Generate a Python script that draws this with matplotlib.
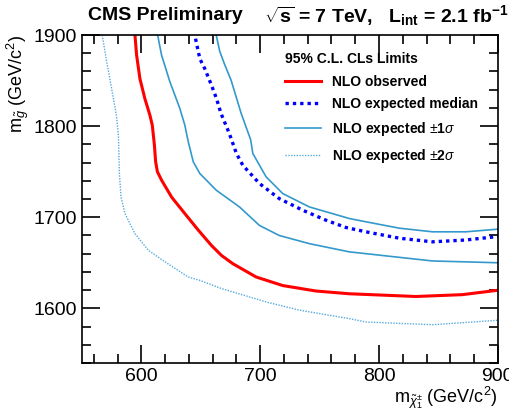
import matplotlib.pyplot as plt
from matplotlib.ticker import MultipleLocator

plt.rcParams['font.family'] = ['Liberation Sans', 'DejaVu Sans']
plt.rcParams['mathtext.fontset'] = 'custom'
plt.rcParams['mathtext.rm'] = 'Liberation Sans'
plt.rcParams['mathtext.it'] = 'Liberation Sans:italic'
plt.rcParams['mathtext.bf'] = 'Liberation Sans:bold'

# limit contours (chargino mass, gluino mass)
obs_x = [594.6, 596, 598.8, 603, 607.2, 609.2, 611, 612, 613.5, 617, 625.5, 636.6, 648, 659, 667.5,
         677, 696.6, 719, 747, 775, 831, 870, 901]
obs_y = [1900, 1878, 1852, 1830, 1812, 1801, 1779, 1761, 1750, 1740.7, 1722, 1704, 1685.7, 1669, 1658,
         1649, 1634.4, 1625, 1619, 1616, 1613, 1615, 1620]

exp_x = [645.6, 649.2, 653.4, 659, 663.3, 667, 674, 680, 685.4, 699.4, 716, 735.8, 755.5, 772.3,
         789, 817, 845, 873, 901]
exp_y = [1896, 1874, 1863, 1845, 1830, 1814, 1792, 1770, 1757, 1737, 1720.5, 1707.7, 1696.7, 1688.7,
         1684, 1677, 1673, 1675, 1679]

p1_x = [663, 666, 670, 675.5, 684, 692, 693.8, 705, 719, 741.4, 775, 789, 817, 845, 873, 901]
p1_y = [1900, 1882, 1868, 1850.5, 1814, 1785, 1770, 1744.3, 1726, 1711.3, 1698.6, 1695, 1688, 1684, 1684, 1687]

m1_x = [613.7, 617, 624, 632.4, 636.6, 639.5, 643.7, 649.2, 663, 682.6, 699.4, 716, 741.4, 775,
        789, 845, 901]
m1_y = [1900, 1878, 1848.7, 1819.4, 1801, 1782.7, 1760.8, 1748, 1729.7, 1711.3, 1691, 1680, 1671, 1662,
        1660, 1652, 1650]

m2_x = [567, 570.8, 575, 579, 580.7, 581.5, 582.9, 586.2, 594.6, 605.9, 619.9, 639.5, 649, 667.5,
        677, 705, 733, 775, 789, 845, 901]
m2_y = [1900, 1871, 1841, 1812, 1790, 1748, 1722, 1704, 1682, 1663.7, 1651, 1634.4, 1630.8, 1621.7,
        1618, 1607, 1598, 1588.7, 1585, 1582, 1587]

fig = plt.figure(figsize=(5.09, 4.17), dpi=100)
ax = fig.add_axes([0.161, 0.1295, 0.817, 0.7865])

ax.plot(obs_x, obs_y, color='#ff0000', lw=2.2, label='NLO observed')
ax.plot(exp_x, exp_y, color='#0000ff', lw=2.4, ls=(0, (1, 1.2)), label='NLO expected median')
ax.plot(p1_x, p1_y, color='#3399cc', lw=1.2, label='NLO expected $\\pm$1$\\sigma$')
ax.plot(m1_x, m1_y, color='#3399cc', lw=1.2)
ax.plot(m2_x, m2_y, color='#55aadd', lw=1.0, ls=(0, (1, 1)), label='NLO expected $\\pm$2$\\sigma$')

ax.set_xlim(550, 900)
ax.set_ylim(1540, 1900)
ax.xaxis.set_major_locator(MultipleLocator(100))
ax.xaxis.set_minor_locator(MultipleLocator(20))
ax.yaxis.set_major_locator(MultipleLocator(100))
ax.yaxis.set_minor_locator(MultipleLocator(20))
ax.tick_params(which='both', direction='in', top=True, right=True, labelsize=14, width=1.2)
ax.tick_params(which='major', length=13)
ax.tick_params(which='minor', length=6.5)
for s in ax.spines.values():
    s.set_linewidth(1.2)

ax.set_xlabel('m$_{\\tilde{\\chi}_1^{\\pm}}$ (GeV/c$^2$)', fontsize=13, loc='right', labelpad=0)
ax.set_ylabel('m$_{\\tilde{g}}$ (GeV/c$^2$)', fontsize=13, loc='top', labelpad=2)

leg = ax.legend(loc='upper left', bbox_to_anchor=(0.475, 0.965), frameon=False,
                title='95% C.L. CLs Limits', prop={'weight': 'bold', 'size': 10},
                handlelength=2.6, labelspacing=0.62, borderaxespad=0, title_fontsize=10)
leg.get_title().set_fontweight('bold')
leg._legend_box.align = 'left'

fig.text(0.173, 0.962, 'CMS Preliminary', fontsize=14, fontweight='bold', va='center')
fig.text(0.998, 0.962, '$\\mathbf{\\sqrt{s}}$ = 7 TeV,   L$_{\\mathbf{int}}$ = 2.1 fb$^{\\mathbf{-1}}$',
         fontsize=14, fontweight='bold', va='center', ha='right')

fig.savefig('out.png', dpi=100)
